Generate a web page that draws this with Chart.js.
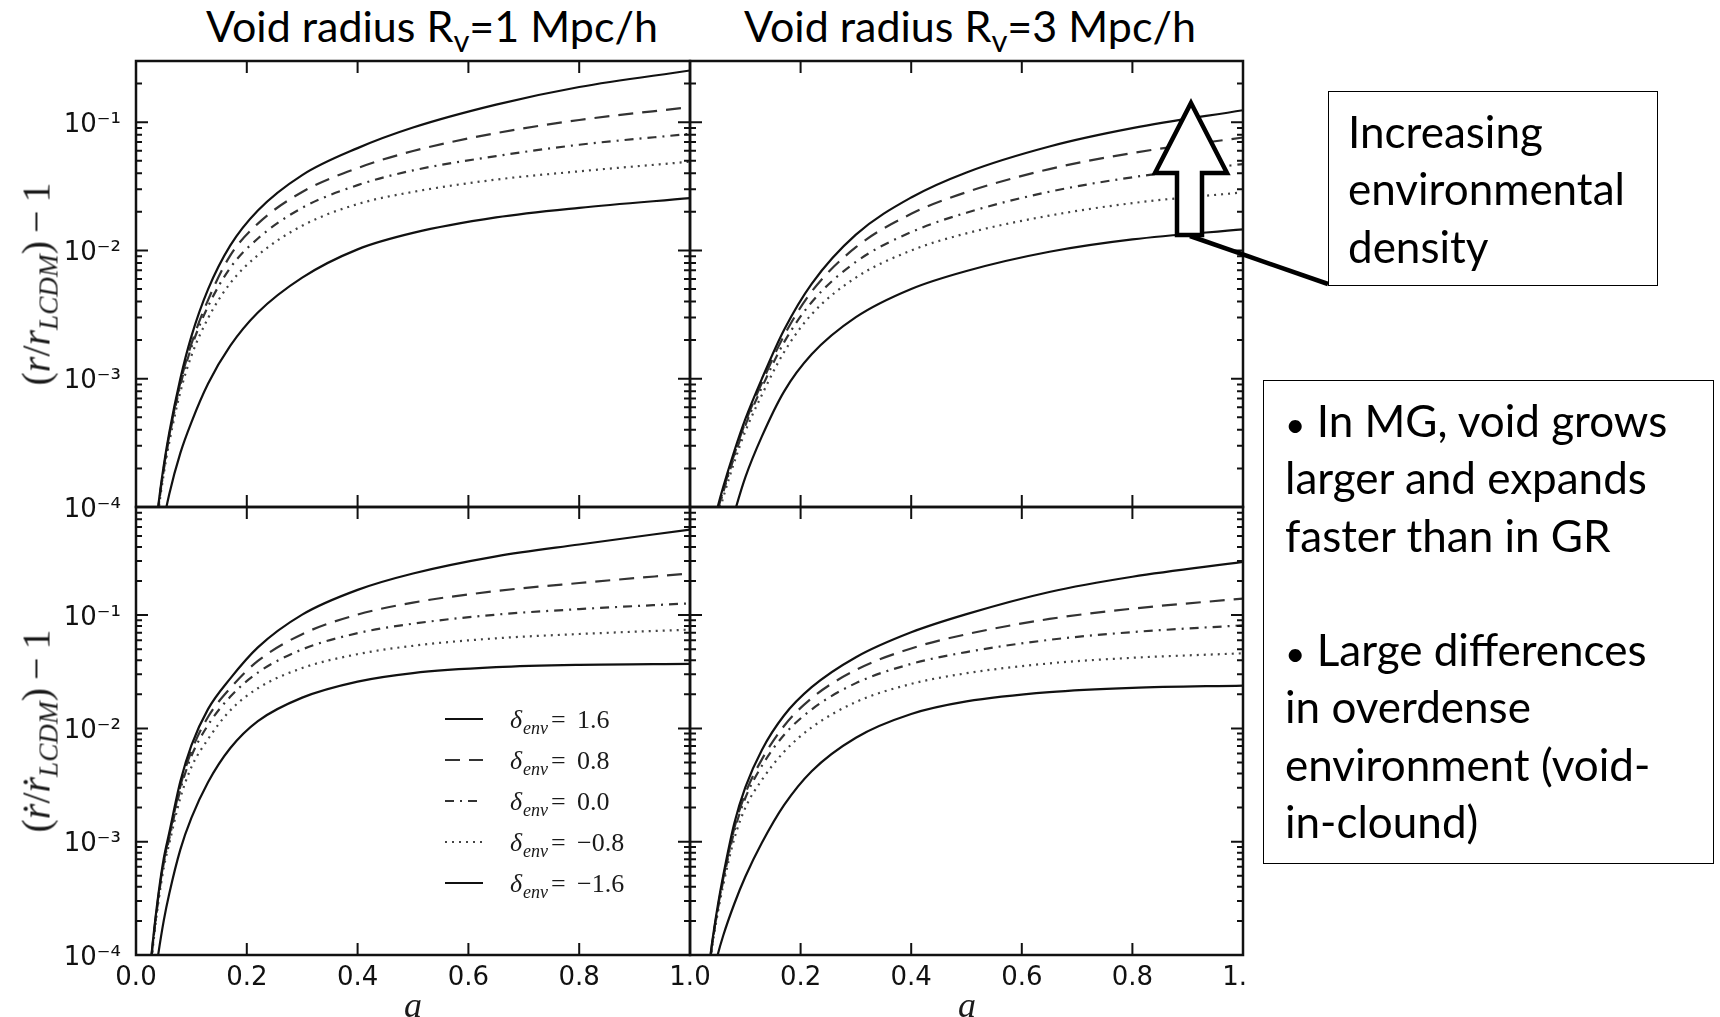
<!DOCTYPE html>
<html>
<head>
<meta charset="utf-8">
<title>Void radius evolution in MG</title>
<script src="https://cdn.jsdelivr.net/npm/chart.js@4.4.1/dist/chart.umd.min.js"></script>
<style>
  html, body { margin: 0; padding: 0; background: #fff; }
  body { position: relative; width: 1720px; height: 1017px; overflow: hidden; color: #000; }
  canvas { position: absolute; }
  .clip { position: absolute; overflow: hidden; }
  .title { position: absolute; top: 4px; font: 43px Lato, sans-serif; line-height: 43px; white-space: nowrap; transform: translateX(-50%); }
  .title .sub { font-size: 0.72em; position: relative; top: 0.32em; }
  .ylab { position: absolute; font: italic 40px "Liberation Serif", "DejaVu Serif", serif; white-space: nowrap; transform: translate(-50%, -50%) rotate(-90deg); color: #1a1a1a; }
  .ylab .s { font-size: 0.68em; position: relative; top: 0.3em; }
  .ylab .n { font-style: normal; }
  .xlab { position: absolute; font: italic 36px "Liberation Serif", serif; transform: translate(-50%, -50%); color: #1a1a1a; }
  .note { position: absolute; border: 1.5px solid #000; box-sizing: border-box; font: 44px Lato, sans-serif; line-height: 57.3px; white-space: nowrap; }
  .note .b { font-size: 0.8em; line-height: 0; }
  svg { position: absolute; left: 0; top: 0; }
</style>
</head>
<body>

<div class="title" style="left:432px">Void radius R<span class="sub">v</span>=1 Mpc/h</div>
<div class="title" style="left:970px">Void radius R<span class="sub">v</span>=3 Mpc/h</div>

<canvas id="tl" width="720" height="510" style="left:0;top:29px"></canvas>
<canvas id="tr" width="603" height="496" style="left:670px;top:31px"></canvas>
<canvas id="bl" width="720" height="542" style="left:0;top:475px"></canvas>
<div class="clip" style="left:670px;top:487px;width:578px;height:530px">
  <canvas id="br" width="603" height="530" style="left:0;top:0"></canvas>
</div>

<div class="ylab" style="left:36px;top:284px"><span class="n">(</span>r<span class="n">/</span>r<span class="s">LCDM</span><span class="n">)&#8201;&#8722;&#8201;1</span></div>
<div class="ylab" style="left:36px;top:731px"><span class="n">(</span>&#7769;<span class="n">/</span>&#7769;<span class="s">LCDM</span><span class="n">)&#8201;&#8722;&#8201;1</span></div>
<div class="xlab" style="left:413px;top:1005px">a</div>
<div class="xlab" style="left:967px;top:1005px">a</div>

<svg width="1720" height="1017">
  <polygon points="1191,103 1227,173 1202,173 1202,235 1177,235 1177,173 1155,173" fill="#fff" stroke="#000" stroke-width="4.5" stroke-linejoin="miter"/>
  <line x1="1190" y1="236" x2="1328" y2="284" stroke="#000" stroke-width="4.5"/>
</svg>

<div class="note" style="left:1328px;top:91px;width:330px;height:195px;padding:11px 0 0 19px">Increasing<br>environmental<br>density</div>
<div class="note" style="left:1263px;top:380px;width:451px;height:484px;padding:11px 0 0 21px"><span class="b">&bull;</span> In MG, void grows<br>larger and expands<br>faster than in GR<br>&nbsp;<br><span class="b">&bull;</span> Large differences<br>in overdense<br>environment (void-<br>in-clound)</div>

<script>
// scale factor a, shared by all curves
const scaleFactor = [0.02, 0.03, 0.04, 0.05, 0.06, 0.08, 0.1, 0.13, 0.17, 0.22, 0.3, 0.4, 0.5, 0.65, 0.8, 1.0];
const deltaEnv = ['1.6', '0.8', '0.0', '\u22120.8', '\u22121.6'];
const xTickValues = [0, 0.2, 0.4, 0.6, 0.8, 1.0];
const decadeTicks = [1e-4, 1e-3, 1e-2, 1e-1];
const minorSteps = [1, 2, 3, 4, 5, 6, 7, 8, 9];

// (r/r_LCDM)-1, Rv = 1 Mpc/h
const rRv1_p16 = [null, 3.8e-5, 1.0e-4, 2.09e-4, 3.8e-4, 1.0e-3, 2.14e-3, 4.97e-3, 1.09e-2, 2.05e-2, 3.87e-2, 6.28e-2, 9.08e-2, 0.137, 0.188, 0.253];
const rRv1_p08 = [null, 3.63e-5, 9.66e-5, 2.0e-4, 3.6e-4, 9.29e-4, 1.87e-3, 4.10e-3, 9.12e-3, 1.62e-2, 2.86e-2, 4.39e-2, 5.96e-2, 8.22e-2, 0.104, 0.131];
const rRv1_00 = [null, 3.52e-5, 9.42e-5, 1.93e-4, 3.48e-4, 8.87e-4, 1.76e-3, 3.66e-3, 7.31e-3, 1.24e-2, 2.15e-2, 3.23e-2, 4.21e-2, 5.44e-2, 6.67e-2, 8.11e-2];
const rRv1_m08 = [null, 3.30e-5, 8.87e-5, 1.80e-4, 3.18e-4, 7.87e-4, 1.51e-3, 2.96e-3, 5.55e-3, 9.18e-3, 1.56e-2, 2.30e-2, 2.86e-2, 3.57e-2, 4.14e-2, 4.92e-2];
const rRv1_m16 = [null, 1.26e-5, 4.27e-5, 7.76e-5, 1.26e-4, 2.63e-4, 4.57e-4, 9.12e-4, 1.80e-3, 3.28e-3, 6.14e-3, 1.02e-2, 1.37e-2, 1.81e-2, 2.15e-2, 2.56e-2];

// (r/r_LCDM)-1, Rv = 3 Mpc/h
const rRv3_p16 = [null, 4.37e-5, 6.76e-5, 1.0e-4, 1.43e-4, 2.72e-4, 4.84e-4, 1.0e-3, 2.40e-3, 5.50e-3, 1.33e-2, 2.59e-2, 4.06e-2, 6.47e-2, 8.99e-2, 0.124];
const rRv3_p08 = [null, 4.15e-5, 6.43e-5, 9.38e-5, 1.35e-4, 2.56e-4, 4.55e-4, 9.29e-4, 2.17e-3, 4.78e-3, 1.06e-2, 1.93e-2, 2.85e-2, 4.31e-2, 5.75e-2, 7.60e-2];
const rRv3_00 = [null, 3.99e-5, 6.18e-5, 9.04e-5, 1.30e-4, 2.46e-4, 4.32e-4, 8.55e-4, 1.92e-3, 3.95e-3, 8.15e-3, 1.39e-2, 1.97e-2, 2.87e-2, 3.72e-2, 4.72e-2];
const rRv3_m08 = [null, 3.70e-5, 5.65e-5, 8.26e-5, 1.18e-4, 2.23e-4, 3.88e-4, 7.48e-4, 1.61e-3, 3.18e-3, 6.15e-3, 1.0e-2, 1.36e-2, 1.87e-2, 2.34e-2, 2.84e-2];
const rRv3_m16 = [null, 1.23e-5, 1.86e-5, 2.82e-5, 4.27e-5, 8.91e-5, 1.70e-4, 3.55e-4, 7.94e-4, 1.55e-3, 3.02e-3, 5.01e-3, 6.92e-3, 9.77e-3, 1.22e-2, 1.46e-2];

// (rdot/rdot_LCDM)-1, Rv = 1 Mpc/h
const vRv1_p16 = [3.98e-5, 1.26e-4, 3.31e-4, 7.08e-4, 1.20e-3, 3.39e-3, 7.08e-3, 1.48e-2, 2.75e-2, 5.19e-2, 0.101, 0.167, 0.233, 0.330, 0.420, 0.569];
const vRv1_p08 = [3.82e-5, 1.22e-4, 3.16e-4, 6.64e-4, 1.12e-3, 3.08e-3, 6.30e-3, 1.26e-2, 2.26e-2, 3.94e-2, 6.79e-2, 0.101, 0.129, 0.163, 0.192, 0.233];
const vRv1_00 = [3.66e-5, 1.18e-4, 3.05e-4, 6.40e-4, 1.06e-3, 2.87e-3, 5.68e-3, 1.07e-2, 1.90e-2, 3.11e-2, 4.98e-2, 6.93e-2, 8.40e-2, 0.101, 0.113, 0.127];
const vRv1_m08 = [3.37e-5, 1.11e-4, 2.83e-4, 5.85e-4, 9.62e-4, 2.43e-3, 4.55e-3, 8.04e-3, 1.44e-2, 2.26e-2, 3.41e-2, 4.52e-2, 5.36e-2, 6.24e-2, 6.81e-2, 7.45e-2];
const vRv1_m16 = [1.0e-5, 4.47e-5, 1.0e-4, 2.0e-4, 3.47e-4, 8.51e-4, 1.62e-3, 3.35e-3, 6.68e-3, 1.16e-2, 1.87e-2, 2.59e-2, 3.08e-2, 3.47e-2, 3.64e-2, 3.71e-2];

// (rdot/rdot_LCDM)-1, Rv = 3 Mpc/h
const vRv3_p16 = [2.51e-5, 5.25e-5, 1.29e-4, 2.69e-4, 5.01e-4, 1.45e-3, 3.02e-3, 6.46e-3, 1.30e-2, 2.31e-2, 4.25e-2, 7.05e-2, 0.102, 0.160, 0.218, 0.295];
const vRv3_p08 = [2.42e-5, 5.12e-5, 1.25e-4, 2.56e-4, 4.71e-4, 1.31e-3, 2.66e-3, 5.33e-3, 1.05e-2, 1.85e-2, 3.28e-2, 5.08e-2, 6.78e-2, 9.25e-2, 0.114, 0.140];
const vRv3_00 = [2.36e-5, 5.02e-5, 1.22e-4, 2.49e-4, 4.49e-4, 1.23e-3, 2.43e-3, 4.68e-3, 8.75e-3, 1.47e-2, 2.51e-2, 3.71e-2, 4.72e-2, 6.05e-2, 7.08e-2, 8.13e-2];
const vRv3_m08 = [2.23e-5, 4.84e-5, 1.16e-4, 2.32e-4, 4.12e-4, 1.06e-3, 1.99e-3, 3.51e-3, 6.21e-3, 1.02e-2, 1.71e-2, 2.47e-2, 3.07e-2, 3.75e-2, 4.20e-2, 4.60e-2];
const vRv3_m16 = [1.0e-5, 2.82e-5, 6.03e-5, 1.0e-4, 1.48e-4, 2.82e-4, 4.90e-4, 9.77e-4, 2.10e-3, 4.19e-3, 8.28e-3, 1.34e-2, 1.73e-2, 2.09e-2, 2.28e-2, 2.39e-2];

const lineStyles = [
    { color: '#111', dash: [] },
    { color: '#333', dash: [15, 9] },
    { color: '#333', dash: [9, 6, 2, 6] },
    { color: '#444', dash: [2, 5] },
    { color: '#111', dash: [] }
];

const SUP = { '-': '\u207B', '0': '\u2070', '1': '\u00B9', '2': '\u00B2', '3': '\u00B3', '4': '\u2074' };
function powerLabel(v) {
    const e = String(Math.round(Math.log10(v)));
    return '10' + e.split('').map(c => SUP[c]).join('');
}

// matplotlib-like frame with inward ticks on every side
const frameTicks = {
    id: 'frameTicks',
    afterDraw(chart) {
        const { ctx, chartArea: a, scales: { x, y } } = chart;
        ctx.save();
        ctx.strokeStyle = '#111';
        ctx.lineWidth = 2;
        ctx.beginPath();
        xTickValues.forEach(v => {
            const px = x.getPixelForValue(v);
            ctx.moveTo(px, a.bottom); ctx.lineTo(px, a.bottom - 12);
            ctx.moveTo(px, a.top); ctx.lineTo(px, a.top + 12);
        });
        decadeTicks.forEach(d => {
            minorSteps.forEach(m => {
                const v = m * d;
                if (v > y.max * 1.0001) return;
                const py = y.getPixelForValue(v);
                const len = m === 1 ? 12 : 6;
                ctx.moveTo(a.left, py); ctx.lineTo(a.left + len, py);
                ctx.moveTo(a.right, py); ctx.lineTo(a.right - len, py);
            });
        });
        ctx.stroke();
        ctx.lineWidth = 2.5;
        ctx.strokeRect(a.left, a.top, a.right - a.left, a.bottom - a.top);
        ctx.restore();
    }
};

const legendBox = { x: 309, y: 212, rowGap: 41, sample: 38 };
const deltaLegend = {
    id: 'deltaLegend',
    afterDraw(chart) {
        const { ctx, chartArea } = chart;
        const x0 = chartArea.left + legendBox.x;
        chart.data.datasets.forEach((ds, i) => {
            const y = chartArea.top + legendBox.y + i * legendBox.rowGap;
            ctx.save();
            ctx.strokeStyle = ds.borderColor;
            ctx.lineWidth = 2;
            ctx.setLineDash(ds.borderDash);
            ctx.beginPath();
            ctx.moveTo(x0, y);
            ctx.lineTo(x0 + legendBox.sample, y);
            ctx.stroke();
            ctx.setLineDash([]);
            ctx.fillStyle = '#1a1a1a';
            ctx.textBaseline = 'alphabetic';
            ctx.font = 'italic 26px "Liberation Serif"';
            ctx.fillText('\u03B4', x0 + 65, y + 9);
            ctx.font = 'italic 18px "Liberation Serif"';
            ctx.fillText('env', x0 + 78, y + 15);
            ctx.font = '26px "Liberation Serif"';
            ctx.fillText('=', x0 + 106, y + 9);
            ctx.fillText(ds.label, x0 + 132, y + 9);
            ctx.restore();
        });
    }
};

function makeDatasets(seriesList) {
    return seriesList.map((s, i) => ({
        label: deltaEnv[i],
        data: scaleFactor.map((a, j) => ({ x: a, y: s[j] })),
        borderColor: lineStyles[i].color,
        borderDash: lineStyles[i].dash,
        borderWidth: 2.2,
        pointRadius: 0,
        cubicInterpolationMode: 'monotone',
        fill: false
    }));
}

function makePanel(id, seriesList, o) {
    const ctx = document.getElementById(id).getContext('2d');
    return new Chart(ctx, {
        type: 'line',
        data: { datasets: makeDatasets(seriesList) },
        options: {
            responsive: false,
            animation: false,
            devicePixelRatio: 1,
            layout: { padding: o.padding },
            plugins: { legend: { display: false }, tooltip: { enabled: false } },
            scales: {
                x: {
                    type: 'linear', min: 0, max: 1,
                    display: o.showX,
                    afterBuildTicks: s => { s.ticks = xTickValues.map(v => ({ value: v })); },
                    afterFit: s => { s.height = o.showX ? 50 : 0; },
                    grid: { display: false, drawTicks: false },
                    border: { display: false },
                    ticks: {
                        font: { family: 'DejaVu Sans', size: 26 },
                        color: '#111',
                        padding: 8,
                        maxRotation: 0,
                        autoSkip: false,
                        callback: v => (o.hideZero && v === 0) ? '' : v.toFixed(1)
                    }
                },
                y: {
                    type: 'logarithmic', min: 1e-4, max: o.yMax,
                    display: o.showY,
                    afterBuildTicks: s => { s.ticks = decadeTicks.filter(v => v <= o.yMax).map(v => ({ value: v })); },
                    afterFit: s => { s.width = o.showY ? 120 : 0; },
                    grid: { display: false, drawTicks: false },
                    border: { display: false },
                    ticks: {
                        font: { family: 'DejaVu Sans', size: 26 },
                        color: '#111',
                        padding: 15,
                        labelOffset: 3,
                        autoSkip: false,
                        callback: v => powerLabel(v)
                    }
                }
            }
        },
        plugins: o.legend ? [frameTicks, deltaLegend] : [frameTicks]
    });
}

makePanel('tl', [rRv1_p16, rRv1_p08, rRv1_00, rRv1_m08, rRv1_m16],
    { yMax: 0.3, showX: false, showY: true, padding: { left: 16, top: 32, right: 30, bottom: 32 } });
makePanel('tr', [rRv3_p16, rRv3_p08, rRv3_00, rRv3_m08, rRv3_m16],
    { yMax: 0.3, showX: false, showY: false, padding: { left: 20, top: 30, right: 30, bottom: 20 } });
makePanel('bl', [vRv1_p16, vRv1_p08, vRv1_00, vRv1_m08, vRv1_m16],
    { yMax: 0.9, showX: true, showY: true, legend: true, padding: { left: 16, top: 32, right: 30, bottom: 12 } });
makePanel('br', [vRv3_p16, vRv3_p08, vRv3_00, vRv3_m08, vRv3_m16],
    { yMax: 0.9, showX: true, showY: false, hideZero: true, padding: { left: 20, top: 20, right: 30, bottom: 12 } });
</script>
</body>
</html>
